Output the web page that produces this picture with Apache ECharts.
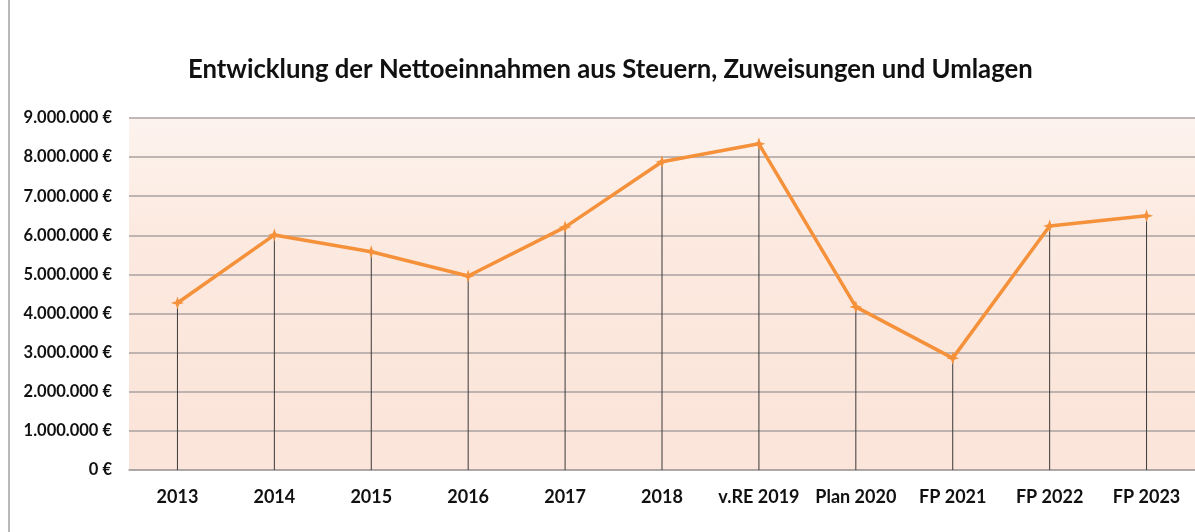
<!DOCTYPE html>
<html>
<head>
<meta charset="utf-8">
<script src="https://cdn.jsdelivr.net/npm/echarts@6/dist/echarts.min.js"></script>
<style>
  html, body { margin: 0; padding: 0; background: #fff; }
  #chart { width: 1195px; height: 532px; }
</style>
</head>
<body>
<div id="chart"></div>
<script>
const categories = ["2013", "2014", "2015", "2016", "2017", "2018", "v.RE 2019", "Plan 2020", "FP 2021", "FP 2022", "FP 2023"];
const einnahmen = [4270000, 6010000, 5580000, 4960000, 6210000, 7880000, 8340000, 4170000, 2860000, 6240000, 6500000];

const titleText = "Entwicklung der Nettoeinnahmen aus Steuern, Zuweisungen und Umlagen";
const font = "Lato";

function euro(v) {
  return String(v).replace(/\B(?=(\d{3})+(?!\d))/g, ".") + " €";
}

// kleiner Stern wie bei Excel
const star = "path://M0,-10 L2.5,-2.5 L10,0 L2.5,2.5 L0,10 L-2.5,2.5 L-10,0 L-2.5,-2.5 Z";

const chart = echarts.init(document.getElementById("chart"));
chart.setOption({
  animation: false,
  title: {
    text: titleText,
    left: 183,
    top: 52,
    textStyle: { fontFamily: font, fontWeight: "bold", fontSize: 25.7, color: "#111" }
  },
  graphic: [{
    type: "line",
    shape: { x1: 9, y1: 0, x2: 9, y2: 532 },
    style: { stroke: "#b8b8b8", lineWidth: 2 }
  }],
  grid: {
    left: 129, right: 0, top: 118, bottom: 62,
    show: true,
    borderWidth: 0,
    backgroundColor: {
      type: "linear", x: 0, y: 0, x2: 0, y2: 1,
      colorStops: [
        { offset: 0, color: "#fdf3ee" },
        { offset: 0.35, color: "#fce9df" },
        { offset: 1, color: "#fbe4d9" }
      ]
    }
  },
  xAxis: {
    type: "category",
    data: categories,
    boundaryGap: true,
    axisLine: { lineStyle: { color: "#a9a3a0", width: 1.5 } },
    axisTick: { show: false },
    axisLabel: { interval: 0, margin: 18, color: "#111", fontFamily: font, fontWeight: "bold", fontSize: 18 }
  },
  yAxis: {
    type: "value",
    min: 0, max: 9000000, interval: 1000000,
    axisLine: { show: false },
    axisTick: { show: false },
    splitLine: { lineStyle: { color: "#aaa2a0", width: 1.5 } },
    axisLabel: { margin: 17, color: "#111", fontFamily: font, fontWeight: "bold", fontSize: 16.5, formatter: euro }
  },
  series: [
    {
      type: "bar",
      data: einnahmen,
      barWidth: 1,
      silent: true,
      itemStyle: { color: "#3a3a3a" },
      z: 2
    },
    {
      type: "line",
      data: einnahmen,
      symbol: star,
      symbolSize: 13,
      lineStyle: { color: "#f5913a", width: 3.5 },
      itemStyle: { color: "#f5913a" },
      z: 3
    }
  ]
});
</script>
</body>
</html>
